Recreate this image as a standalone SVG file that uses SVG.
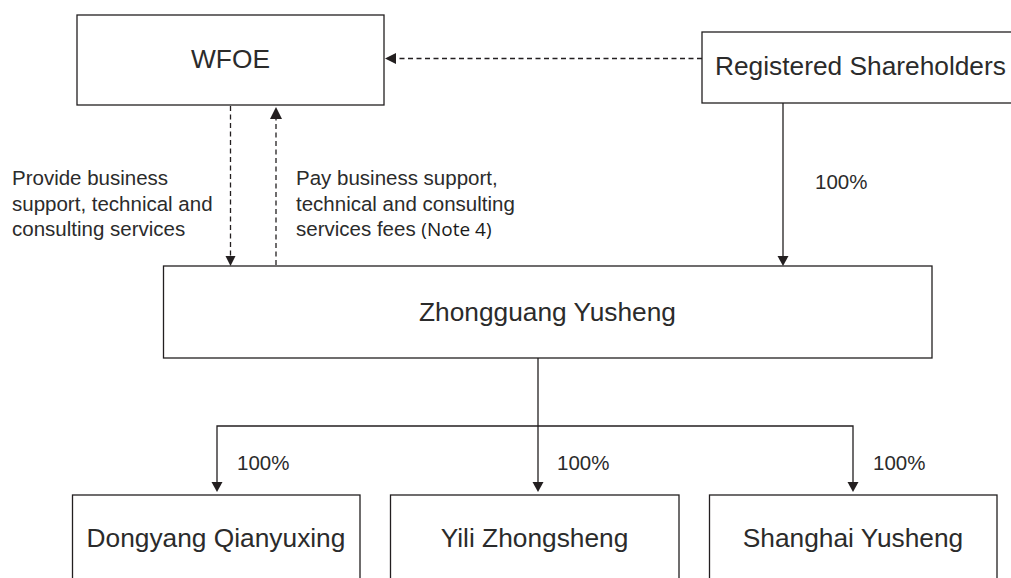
<svg xmlns="http://www.w3.org/2000/svg" width="1011" height="578" viewBox="0 0 1011 578">
<defs>
<style>
.box{fill:#ffffff;stroke:#231f20;stroke-width:1.3}
.nt{font-family:"Liberation Sans",Arial,sans-serif;font-size:26.3px;fill:#2b2b2b;text-anchor:middle}
.lb{font-family:"Liberation Sans",Arial,sans-serif;font-size:20.5px;fill:#2b2b2b}
.pc{font-family:"Liberation Sans",Arial,sans-serif;font-size:20.5px;fill:#2b2b2b}
.ln{fill:none;stroke:#231f20;stroke-width:1.3}
.dl{fill:none;stroke:#231f20;stroke-width:1.3;stroke-dasharray:5 3.5}
.ah{fill:#231f20}
</style>
</defs>
<rect x="0" y="0" width="1011" height="578" fill="#ffffff"/>
<g id="connectors">
<line class="dl" x1="702" y1="58.5" x2="396" y2="58.5"/>
<polygon class="ah" points="385,58.5 396,53 396,64"/>
<line class="dl" x1="230.5" y1="106" x2="230.5" y2="256"/>
<polygon class="ah" points="230.5,266 225.5,256 235.5,256"/>
<line class="dl" x1="276" y1="265" x2="276" y2="119"/>
<polygon class="ah" points="276,107 270,119 282,119"/>
<line class="ln" x1="783" y1="103" x2="783" y2="257"/>
<polygon class="ah" points="783,266 777.5,256 788.5,256"/>
<line class="ln" x1="538" y1="358" x2="538" y2="483"/>
<polyline class="ln" points="217,483 217,426 853,426 853,483"/>
<polygon class="ah" points="217,492 211.5,482 222.5,482"/>
<polygon class="ah" points="538,492 532.5,482 543.5,482"/>
<polygon class="ah" points="853,492 847.5,482 858.5,482"/>
<text class="pc" x="815" y="189">100%</text>
<text class="pc" x="237" y="470">100%</text>
<text class="pc" x="557" y="470">100%</text>
<text class="pc" x="873" y="470">100%</text>
<text class="lb" x="12" y="185">Provide business</text>
<text class="lb" x="12" y="211">support, technical and</text>
<text class="lb" x="12" y="236">consulting services</text>
<text class="lb" x="296" y="185">Pay business support,</text>
<text class="lb" x="296" y="211">technical and consulting</text>
<text class="lb" x="296" y="236">services fees <tspan font-family="'Open Sans','Liberation Sans',sans-serif" font-size="19px" font-weight="500" fill="#1a1a1a">(Note 4)</tspan></text>
</g>
<g id="wfoe">
<rect class="box" x="77" y="15" width="307" height="90"/>
<text class="nt" x="230.5" y="68">WFOE</text>
</g>
<g id="registered-shareholders">
<rect class="box" x="702" y="32" width="320" height="71"/>
<text class="nt" x="715" y="75" style="text-anchor:start">Registered Shareholders</text>
</g>
<g id="zhongguang-yusheng">
<rect class="box" x="163.5" y="266" width="768.5" height="92"/>
<text class="nt" x="547.5" y="321">Zhongguang Yusheng</text>
</g>
<g id="dongyang-qianyuxing">
<rect class="box" x="72.5" y="495" width="287.5" height="100"/>
<text class="nt" x="216" y="547">Dongyang Qianyuxing</text>
</g>
<g id="yili-zhongsheng">
<rect class="box" x="390.5" y="495" width="288.5" height="100"/>
<text class="nt" x="534.5" y="547">Yili Zhongsheng</text>
</g>
<g id="shanghai-yusheng">
<rect class="box" x="709.5" y="495" width="287.5" height="100"/>
<text class="nt" x="853" y="547">Shanghai Yusheng</text>
</g>
</svg>
